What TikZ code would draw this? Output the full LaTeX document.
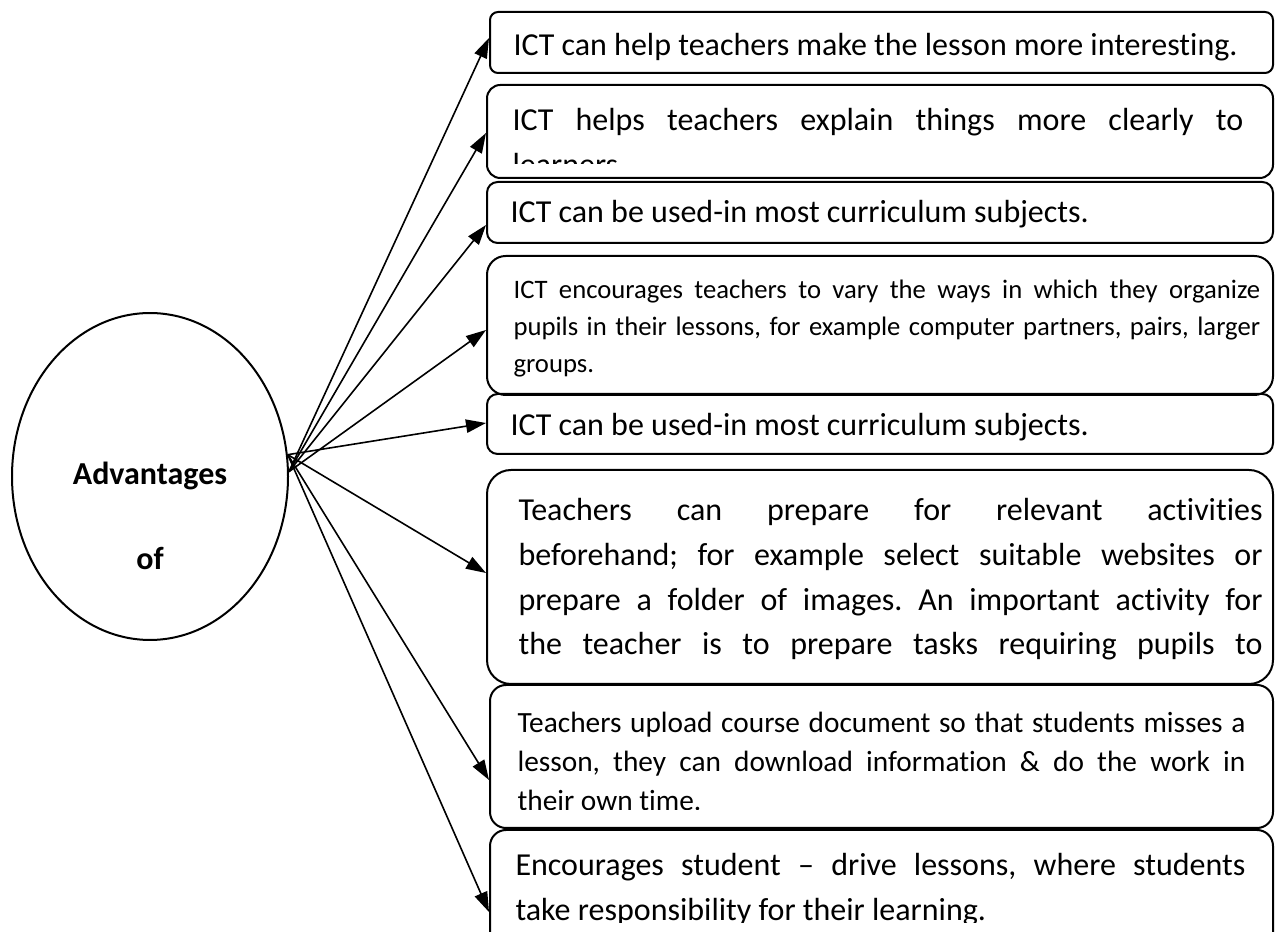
\documentclass[tikz,border=0pt]{standalone}
\usepackage{fontspec}
\setmainfont{Carlito}[Ligatures={TeX,NoCommon}]
\frenchspacing
\usetikzlibrary{arrows.meta,positioning,fit,shapes.geometric}

\begin{document}
\begin{tikzpicture}[
  x=0.375pt, y=-0.375pt,
  box/.style={draw, line width=0.75pt, inner sep=0pt, rounded corners=#1},
  box/.default=4pt,
  txt/.style={anchor=north west, inner sep=0pt, align=justify, font=\fontsize{12}{16.8}\selectfont},
  arr/.style={-{Triangle[length=7.5pt,width=5pt]}, line width=0.6pt}
]
\clip (0,0) rectangle (1275,932);

% the topic on the left
\node[draw, ellipse, line width=0.75pt, inner sep=0pt, minimum width=103.5pt, minimum height=122.6pt] (adv) at (150,476.5) {};
\node[anchor=north, align=center, inner sep=0pt, font=\fontsize{12}{31.9}\selectfont\bfseries] (advtxt) at (150,424.5) {\strut Advantages\\of};

% the boxes on the right
\node[box=3pt, fit={(490,12) (1273,73)}] (lesson) {};
\node[box=5pt, fit={(487,85) (1273,178)}] (clear) {};
\node[box=4pt, fit={(487,182) (1273,243)}] (curric) {};
\node[box=7pt, fit={(487,256) (1273,395)}] (vary) {};
\node[box=4pt, fit={(487,394) (1273,454)}] (curricb) {};
\node[box=9pt, fit={(487,470) (1273,684)}] (prep) {};
\node[box=6pt, fit={(490,685) (1273,828)}] (upload) {};
\node[box=6pt, fit={(490,830) (1273,970)}] (learn) {};

% texts, cut off where the boxes are too small
\node[txt] (t1) at (513,23.6) {\strut ICT can help teachers make the lesson more interesting.};
\begin{scope}
  \clip (487,85) rectangle (1273,164);
  \node[txt, text width=274pt] (t2) at (512,98.6) {\strut ICT helps teachers explain things more clearly to\linebreak learners.};
\end{scope}
\node[txt] (t3) at (510,190.6) {\strut ICT can be used-in most curriculum subjects.};
\node[txt, font=\fontsize{10}{13.9}\selectfont, text width=280pt] (t4) at (513,272.1) {\strut ICT encourages teachers to vary the ways in which they organize\linebreak pupils in their lessons, for example computer partners, pairs, larger\linebreak groups.};
\node[txt] (t5) at (510,403.6) {\strut ICT can be used-in most curriculum subjects.};
\begin{scope}
  \clip (487,470) rectangle (1273,676);
  \node[txt, text width=279pt] (t6) at (518,488.6) {\strut Teachers can prepare for relevant activities\linebreak beforehand; for example select suitable websites or\linebreak prepare a folder of images. An important activity for\linebreak the teacher is to prepare tasks requiring pupils to\linebreak\mbox{}};
\end{scope}
\begin{scope}
  \clip (490,685) rectangle (1273,810);
  \node[txt, font=\fontsize{11}{14.6}\selectfont, text width=273pt] (t7) at (517,704.7) {\strut Teachers upload course document so that students misses a\linebreak lesson, they can download information \& do the work in\linebreak their own time.};
\end{scope}
\begin{scope}
  \clip (490,830) rectangle (1273,923);
  \node[txt, text width=273.7pt] (t8) at (515,843.6) {\strut Encourages student – drive lessons, where students\linebreak take responsibility for their learning.};
\end{scope}

% connectors
\draw[arr] (adv.2) -- (lesson.west |- 0,38);
\draw[arr] (adv.2) -- (clear.west |- 0,133);
\draw[arr] (adv.2) -- (curric.west |- 0,225);
\draw[arr] (adv.2) -- (vary.west |- 0,330);
\draw[arr] (adv.9) -- (curricb.west |- 0,423);
\draw[arr] (adv.9) -- (prep.west |- 0,573);
\draw[arr] (adv.9) -- (upload.west |- 0,780);
\draw[arr] (adv.9) -- (learn.west |- 0,912);

\end{tikzpicture}
\end{document}
